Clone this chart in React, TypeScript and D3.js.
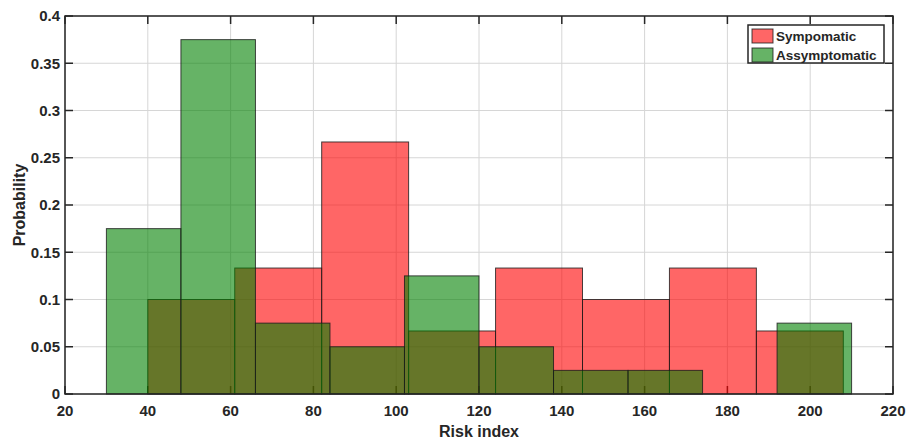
import React from "react";
import { scaleLinear } from "d3";

// bin edges and normalised counts
const symEdges = [40, 61, 82, 103, 124, 145, 166, 187, 208];
const symValues = [0.1, 0.1333, 0.2667, 0.0667, 0.1333, 0.1, 0.1333, 0.0667];

const asyEdges = [30, 48, 66, 84, 102, 120, 138, 156, 174, 192, 210];
const asyValues = [0.175, 0.375, 0.075, 0.05, 0.125, 0.05, 0.025, 0.025, 0, 0.075];

const xTicks = [20, 40, 60, 80, 100, 120, 140, 160, 180, 200, 220];
const yTicks = [0, 0.05, 0.1, 0.15, 0.2, 0.25, 0.3, 0.35, 0.4];
const yTickLabels = ["0", "0.05", "0.1", "0.15", "0.2", "0.25", "0.3", "0.35", "0.4"];

const seriesNames = ["Sympomatic", "Assymptomatic"];
const seriesColors = ["#ff0000", "#008000"];

const W = 906;
const H = 440;
const margin = { top: 16, right: 13, bottom: 46, left: 65 };
const FONT = "'Liberation Sans', Arial, sans-serif";
const AXIS = "#262626";

export default function App() {
  const x = scaleLinear()
    .domain([20, 220])
    .range([margin.left, W - margin.right]);
  const y = scaleLinear()
    .domain([0, 0.4])
    .range([H - margin.bottom, margin.top]);

  const x0 = x.range()[0];
  const x1 = x.range()[1];
  const y0 = y.range()[0];
  const y1 = y.range()[1];
  const tickLen = 8;

  const bins = (edges: number[], values: number[]) =>
    values.map((v, i) => ({ a: edges[i], b: edges[i + 1], v }));

  const series = [bins(symEdges, symValues), bins(asyEdges, asyValues)];

  return (
    <svg
      width={W}
      height={H}
      style={{ position: "absolute", left: 0, top: 0, background: "#fff" }}
      fontFamily={FONT}
    >
      {/* grid */}
      {xTicks.map((t) => (
        <line key={"gx" + t} x1={x(t)} x2={x(t)} y1={y0} y2={y1} stroke="#d6d6d6" strokeWidth={1} />
      ))}
      {yTicks.map((t) => (
        <line key={"gy" + t} x1={x0} x2={x1} y1={y(t)} y2={y(t)} stroke="#d6d6d6" strokeWidth={1} />
      ))}

      {/* ticks, drawn under the bars */}
      {xTicks.map((t) => (
        <g key={"tx" + t} stroke={AXIS} strokeWidth={1.5}>
          <line x1={x(t)} x2={x(t)} y1={y0} y2={y0 - tickLen} />
          <line x1={x(t)} x2={x(t)} y1={y1} y2={y1 + tickLen} />
        </g>
      ))}
      {yTicks.map((t) => (
        <g key={"ty" + t} stroke={AXIS} strokeWidth={1.5}>
          <line x1={x0} x2={x0 + tickLen} y1={y(t)} y2={y(t)} />
          <line x1={x1} x2={x1 - tickLen} y1={y(t)} y2={y(t)} />
        </g>
      ))}

      {/* histograms */}
      {series.map((s, si) => (
        <g key={si}>
          {s
            .filter((d) => d.v > 0)
            .map((d, i) => (
              <rect
                key={i}
                x={x(d.a)}
                y={y(d.v)}
                width={x(d.b) - x(d.a)}
                height={y(0) - y(d.v)}
                fill={seriesColors[si]}
                fillOpacity={0.6}
                stroke="#1a1a1a"
                strokeOpacity={0.8}
                strokeWidth={1}
              />
            ))}
        </g>
      ))}

      {/* box */}
      <rect x={x0} y={y1} width={x1 - x0} height={y0 - y1} fill="none" stroke={AXIS} strokeWidth={1.5} />

      {/* tick labels */}
      {xTicks.map((t) => (
        <text key={"lx" + t} x={x(t)} y={y0 + 22} textAnchor="middle" fontSize={15} fontWeight="bold" fill={AXIS}>
          {t}
        </text>
      ))}
      {yTicks.map((t, i) => (
        <text
          key={"ly" + t}
          x={x0 - 5}
          y={y(t)}
          dy="0.35em"
          textAnchor="end"
          fontSize={15}
          fontWeight="bold"
          fill={AXIS}
        >
          {yTickLabels[i]}
        </text>
      ))}

      {/* axis titles */}
      <text x={(x0 + x1) / 2} y={437} textAnchor="middle" fontSize={16} fontWeight="bold" fill={AXIS}>
        Risk index
      </text>
      <text
        transform={`translate(25,${(y0 + y1) / 2}) rotate(-90)`}
        textAnchor="middle"
        fontSize={16}
        fontWeight="bold"
        fill={AXIS}
      >
        Probability
      </text>

      {/* legend */}
      <g transform="translate(748,25)">
        <rect x={0} y={0} width={136} height={38} fill="#fff" stroke={AXIS} strokeWidth={1.5} />
        {seriesNames.map((n, i) => (
          <g key={n} transform={`translate(4,${4 + i * 19})`}>
            <rect
              x={0}
              y={0}
              width={21}
              height={14}
              fill={seriesColors[i]}
              fillOpacity={0.6}
              stroke="#1a1a1a"
              strokeOpacity={0.8}
            />
            <text x={24} y={7} dy="0.35em" fontSize={13.5} fontWeight="bold" fill={AXIS}>
              {n}
            </text>
          </g>
        ))}
      </g>
    </svg>
  );
}
